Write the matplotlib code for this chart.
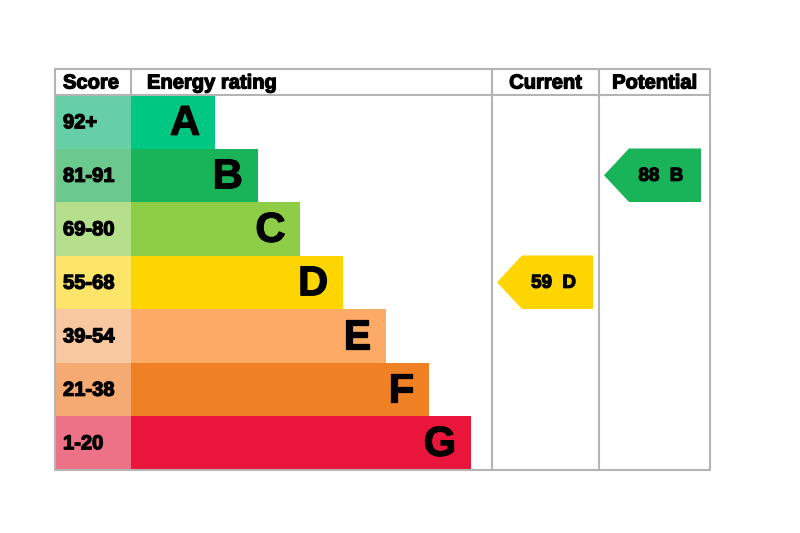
import matplotlib.pyplot as plt
import matplotlib.patheffects as pe
from matplotlib.patches import Polygon

bands = ["A", "B", "C", "D", "E", "F", "G"]
score_ranges = ["92+", "81-91", "69-80", "55-68", "39-54", "21-38", "1-20"]
band_low = [92, 81, 69, 55, 39, 21, 1]
band_colors = ["#00c781", "#19b459", "#8dce46", "#ffd500", "#fcaa65", "#ef8023", "#e9153b"]
score_colors = ["#66cfa8", "#6cc98e", "#b6df8c", "#fde56a", "#f8c8a0", "#f5aa72", "#ee7287"]
current = 59
potential = 88

plt.rcParams['font.family'] = ['Liberation Sans', 'DejaVu Sans']
heavy = [pe.withStroke(linewidth=0.9, foreground="black")]

fig = plt.figure(figsize=(8, 5.33), dpi=100)
ax = fig.add_axes([0, 0, 1, 1])
ax.set_xlim(0, 800)
ax.set_ylim(533, 0)
ax.axis("off")

left, score_w, rating_r, cur_r, right = 55, 131, 492, 599, 710
top, head_h, row_h = 69, 26, 53.5
grid = "#b4b4b4"

ys = [top + head_h + row_h * (i + 0.5) for i in range(len(bands))]
widths = [84 + 42.7 * i for i in range(len(bands))]

ax.barh(ys, [score_w - left] * len(bands), left=left, height=row_h, color=score_colors)
ax.barh(ys, widths, left=score_w, height=row_h, color=band_colors)

for y, b, s, w in zip(ys, bands, score_ranges, widths):
    ax.text(left + 8, y + 1, s, fontsize=14.5, fontweight="bold", va="center", ha="left",
            path_effects=heavy)
    ax.text(score_w + w - 15, y + 2, b, fontsize=30, fontweight="bold", va="center", ha="right",
            path_effects=heavy)

bottom = top + head_h + row_h * len(bands)
# table lines
ax.plot([left, right, right, left, left], [top, top, bottom, bottom, top], color=grid, lw=1.5)
ax.plot([left, right], [top + head_h, top + head_h], color=grid, lw=1.5)
ax.plot([score_w, score_w], [top, top + head_h], color=grid, lw=1.5)
for x in (rating_r, cur_r):
    ax.plot([x, x], [top, bottom], color=grid, lw=1.5)

hy = top + head_h / 2 + 1
hdr = dict(fontsize=14.5, fontweight="bold", va="center", path_effects=heavy)
ax.text(left + 8, hy, "Score", **hdr)
ax.text(score_w + 16, hy, "Energy rating", **hdr)
ax.text((rating_r + cur_r) / 2, hy, "Current", ha="center", **hdr)
ax.text((cur_r + right) / 2, hy, "Potential", ha="center", **hdr)


def band_of(v):
    for i, lo in enumerate(band_low):
        if v >= lo:
            return i
    return len(bands) - 1


def arrow(x0, x1, value):
    i = band_of(value)
    y = ys[i]
    h = row_h
    pts = [(x0, y), (x0 + 25, y - h / 2), (x1, y - h / 2), (x1, y + h / 2), (x0 + 25, y + h / 2)]
    ax.add_patch(Polygon(pts, closed=True, color=band_colors[i], lw=0))
    ax.text((x0 + 25 + x1) / 2 - 4, y + 1, f"{value}  {bands[i]}", fontsize=13.5,
            fontweight="bold", va="center", ha="center", path_effects=heavy)


arrow(rating_r + 5, cur_r - 6, current)
arrow(cur_r + 5, right - 9, potential)

fig.savefig("out.png", dpi=100)
